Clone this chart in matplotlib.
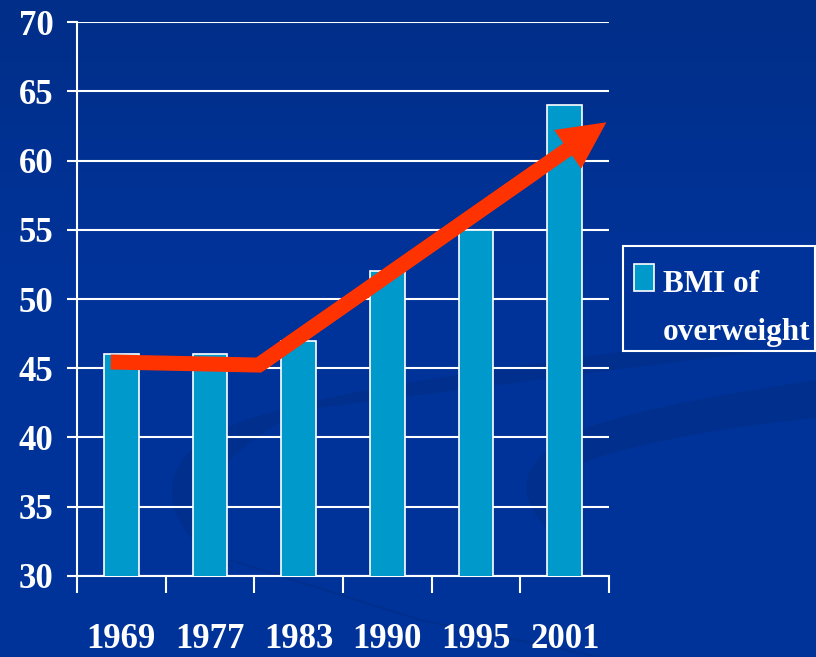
import numpy as np
import matplotlib
matplotlib.use('Agg')
import matplotlib.pyplot as plt
from matplotlib.patches import Rectangle, PathPatch
from matplotlib.path import Path

years = ['1969', '1977', '1983', '1990', '1995', '2001']
bmi_overweight = [46, 46, 47, 52, 55, 64]
y_ticks = [30, 35, 40, 45, 50, 55, 60, 65, 70]
legend_label = 'BMI of\noverweight'

# trend arrow path, x in bar-index units, y in BMI units
trend_x = [-0.12, 1.55, 5.47]
trend_y = [45.45, 45.23, 62.76]

bg_color = '#003399'
swoosh_color = '#002f8d'
bar_color = '#0099cc'
arrow_color = '#ff3300'

plt.rcParams['font.family'] = ['Liberation Serif', 'DejaVu Serif']
plt.rcParams['font.weight'] = 'bold'

fig = plt.figure(figsize=(8.16, 6.57), dpi=100, facecolor=bg_color)

# slide background: slight darkening at the top plus two swooshes
bg = fig.add_axes([0, 0, 1, 1], zorder=-1)
bg.set_xlim(0, 816)
bg.set_ylim(657, 0)
bg.axis('off')
rows = np.linspace(0, 1, 657)
shade = np.clip(rows / 0.4, 0, 1)[:, None, None]
top = np.array([0, 46, 136]) / 255
bottom = np.array([0, 51, 153]) / 255
grad = top + (bottom - top) * shade
bg.imshow(np.repeat(grad, 2, axis=1), extent=[0, 816, 657, 0], aspect='auto', zorder=0)

C, M, L, Z = Path.CURVE4, Path.MOVETO, Path.LINETO, Path.CLOSEPOLY
swoosh_a = Path(
    [(235, 570), (170, 540), (140, 470), (220, 430), (300, 395), (450, 375), (620, 352),
     (816, 330), (816, 345),
     (620, 368), (450, 392), (300, 410), (250, 440), (195, 475), (200, 530), (235, 570),
     (235, 570)],
    [M, C, C, C, C, C, C, L, L, C, C, C, C, C, C, L, Z])
swoosh_b = Path(
    [(560, 540), (510, 500), (515, 460), (580, 430), (650, 405), (740, 392), (816, 380),
     (816, 418),
     (740, 425), (650, 440), (590, 460), (545, 480), (540, 510), (560, 540),
     (560, 540)],
    [M, C, C, C, C, C, C, L, C, C, C, C, C, C, Z])
for p in [swoosh_a, swoosh_b]:
    bg.add_patch(PathPatch(p, facecolor=swoosh_color, edgecolor='none', zorder=1))
bg.plot([230, 420, 600], [560, 620, 657], color=swoosh_color, linewidth=1.5, zorder=1)

ax = fig.add_axes([0.0944, 0.1233, 0.652, 0.8432])
ax.set_facecolor('none')

x = np.arange(len(years))
ax.bar(x, bmi_overweight, width=0.39, color=bar_color, edgecolor='white',
       linewidth=1.2, zorder=3)

ax.set_xlim(-0.5, len(years) - 0.5)
ax.set_ylim(y_ticks[0], y_ticks[-1])
ax.set_yticks(y_ticks)
ax.set_xticks(x)
ax.set_xticklabels(years)
ax.set_xticks(np.arange(len(years) + 1) - 0.5, minor=True)

ax.yaxis.grid(True, color='white', linewidth=1.5, zorder=1)
ax.set_axisbelow(True)

for side in ['top', 'right']:
    ax.spines[side].set_visible(False)
for side in ['left', 'bottom']:
    ax.spines[side].set_color('white')
    ax.spines[side].set_linewidth(1.5)

ax.tick_params(axis='y', colors='white', labelsize=25, length=7, width=1.5,
               pad=10, direction='out')
ax.tick_params(axis='x', which='major', colors='white', labelsize=25,
               length=0, pad=34)
ax.tick_params(axis='x', which='minor', colors='white', length=12, width=1.5,
               direction='out')

# red trend arrow
ax.plot(trend_x[:2] + [trend_x[1] + 0.8 * (trend_x[2] - trend_x[1])],
        trend_y[:2] + [trend_y[1] + 0.8 * (trend_y[2] - trend_y[1])],
        color=arrow_color, linewidth=10.8, solid_joinstyle='miter',
        solid_capstyle='butt', zorder=5)
ax.annotate('', xy=(trend_x[2], trend_y[2]), xytext=(trend_x[1], trend_y[1]),
            arrowprops=dict(arrowstyle='simple,head_length=3.4,head_width=3.4,tail_width=1.08',
                            mutation_scale=10, color=arrow_color, lw=0,
                            shrinkA=0, shrinkB=0),
            zorder=6)

# legend box
fig.add_artist(Rectangle((0.7635, 0.4658), 0.235, 0.1598, transform=fig.transFigure,
                         facecolor=bg_color, edgecolor='white', linewidth=1.5))
fig.add_artist(Rectangle((0.777, 0.557), 0.0245, 0.0411, transform=fig.transFigure,
                         facecolor=bar_color, edgecolor='white', linewidth=1.2))
for i, line in enumerate(legend_label.split('\n')):
    fig.text(0.8125, 0.5556 - i * 0.0731, line, color='white', fontsize=22.5,
             va='baseline', ha='left')

fig.savefig('out.png', dpi=100, facecolor=bg_color)
